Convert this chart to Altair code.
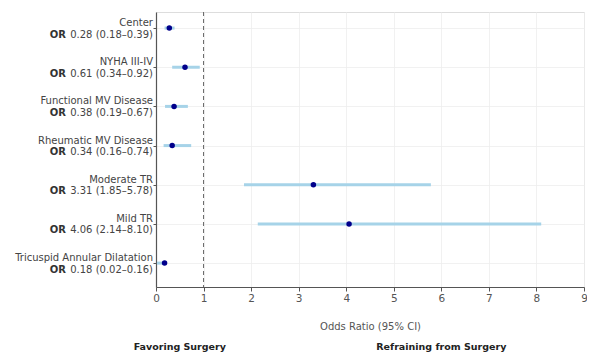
import altair as alt
import pandas as pd

names = ["Center", "NYHA III-IV", "Functional MV Disease", "Rheumatic MV Disease",
         "Moderate TR", "Mild TR", "Tricuspid Annular Dilatation"]
odds = [0.28, 0.61, 0.38, 0.34, 3.31, 4.06, 0.18]
lows = [0.18, 0.34, 0.19, 0.16, 1.85, 2.14, 0.02]
highs = [0.39, 0.92, 0.67, 0.74, 5.78, 8.10, 0.16]
or_text = ["0.28 (0.18–0.39)", "0.61 (0.34–0.92)", "0.38 (0.19–0.67)", "0.34 (0.16–0.74)",
           "3.31 (1.85–5.78)", "4.06 (2.14–8.10)", "0.18 (0.02–0.16)"]
x_ticks = list(range(0, 10))
side_labels = ["Favoring Surgery", "Refraining from Surgery"]
side_pos = [0.5, 6.0]

df = pd.DataFrame({"name": names, "odds": odds, "low": lows, "high": highs,
                   "ortext": or_text, "idx": list(range(len(names)))})
df["or"] = "OR"
sides = pd.DataFrame({"label": side_labels, "pos": side_pos})

FONT = "DejaVu Sans"
W, H = 428, 275

xscale = alt.Scale(domain=[0, 9], nice=False, zero=False)
yscale = alt.Scale(domain=[-0.41, 6.61], reverse=True, nice=False, zero=False)

base = alt.Chart(df)

y_enc = alt.Y("idx:Q", scale=yscale,
              axis=alt.Axis(values=list(range(7)), labels=False, title=None,
                            grid=True, gridColor="#eeeeee", gridWidth=0.8,
                            domainColor="#555555", domainWidth=1.2,
                            tickColor="#555555", tickSize=3))
x_enc = alt.X("low:Q", scale=xscale,
              axis=alt.Axis(values=x_ticks, format="d", title="Odds Ratio (95% CI)",
                            titleFont=FONT, titleFontSize=10, titleFontWeight="normal",
                            titleColor="#555555", titlePadding=18,
                            labelFont=FONT, labelFontSize=10.5, labelColor="#555555",
                            labelPadding=2, labelFlush=False,
                            grid=True, gridColor="#eeeeee", gridWidth=0.8,
                            domainColor="#555555", domainWidth=1.2,
                            tickColor="#555555", tickSize=4))

bars = base.mark_rule(color="#a6d3e8", strokeWidth=3).encode(
    x=x_enc, x2="high:Q", y=y_enc)

ref = alt.Chart(pd.DataFrame({"v": [1]})).mark_rule(
    color="#666666", strokeDash=[4, 3], strokeWidth=1).encode(
    x=alt.X("v:Q", scale=xscale))

pts = base.mark_circle(color="#00008b", size=30, opacity=1).encode(
    x=alt.X("odds:Q", scale=xscale), y=alt.Y("idx:Q", scale=yscale))

name_txt = base.mark_text(align="right", baseline="middle", font=FONT, fontSize=10,
                          color="#444444", dx=-3, dy=-5).encode(
    x=alt.value(0), y=alt.Y("idx:Q", scale=yscale), text="name:N")

val_txt = base.mark_text(align="right", baseline="middle", font=FONT, fontSize=10,
                         color="#444444", dx=-3, dy=6.5).encode(
    x=alt.value(0), y=alt.Y("idx:Q", scale=yscale), text="ortext:N")

or_txt = base.mark_text(align="right", baseline="middle", font=FONT, fontSize=10,
                        fontWeight="bold", color="#333333", dx=-90, dy=6.5).encode(
    x=alt.value(0), y=alt.Y("idx:Q", scale=yscale), text="or:N")

side_txt = alt.Chart(sides).mark_text(align="center", baseline="middle", font=FONT,
                                      fontSize=9.5, fontWeight="bold", color="#222222").encode(
    x=alt.X("pos:Q", scale=xscale), y=alt.value(335), text="label:N")

chart = alt.layer(bars, ref, pts, name_txt, val_txt, or_txt, side_txt).properties(
    width=W, height=H,
    autosize=alt.AutoSizeParams(type="none"),
    padding={"left": 148, "top": 4, "right": 3, "bottom": 65},
).configure_view(stroke=None).configure(background="white")

chart.save("out.html", embed_options={"renderer": "svg", "actions": False})
